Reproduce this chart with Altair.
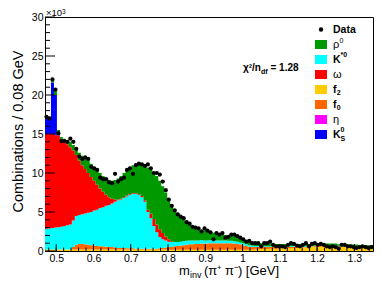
import altair as alt
import numpy as np
import pandas as pd

# ---------------- binning (GeV) ----------------
x_min, x_max, bin_w, n_bins = 0.47, 1.35, 0.008, 110

# ---------------- values in units of 10^3 combinations / bin ----------------
data_k = [
    17.2, 17.0, 22.0, 20.7, 15.1, 14.1, 14.1, 14.0, 14.4, 14.0,
    13.1, 12.1, 11.8, 12.0, 11.8, 10.8, 10.6, 10.4, 9.4, 9.2,
    9.2, 8.8, 8.7, 9.9, 8.9, 9.2, 9.4, 10.4, 10.6, 9.9,
    11.0, 11.2, 11.1, 10.9, 11.1, 10.6, 10.0, 10.0, 9.8, 8.9,
    7.8, 6.6, 5.8, 5.2, 4.7, 4.4, 4.2, 3.7, 3.5, 3.1,
    3.0, 2.9, 2.5, 2.9, 2.6, 2.4, 1.5, 2.3, 2.1, 2.3,
    1.7, 1.8, 2.1, 2.1, 1.9, 1.7, 1.5, 1.2, 1.3, 1.0,
    1.0, 1.0, 0.6, 1.0, 1.0, 1.2, 0.8, 0.6, 0.6, 0.6,
    0.5, 0.8, 1.0, 0.9, 0.7, 0.6, 0.8, 1.0, 0.6, 0.9,
    1.0, 0.8, 0.9, 0.8, 0.6, 0.5, 0.6, 0.5, 0.3, 0.8,
    0.8, 0.6, 0.6, 0.5, 0.4, 0.5, 0.6, 0.5, 0.4, 0.5]

f2_k = [
    0.2, 0.2, 0.2, 0.2, 0.2, 0.2, 0.2, 0.2, 0.2, 0.2,
    0.2, 0.2, 0.2, 0.2, 0.2, 0.2, 0.2, 0.2, 0.2, 0.2,
    0.2, 0.2, 0.2, 0.2, 0.2, 0.2, 0.2, 0.2, 0.2, 0.2,
    0.2, 0.2, 0.2, 0.2, 0.2, 0.2, 0.2, 0.2, 0.2, 0.2,
    0.2, 0.15, 0.15, 0.15, 0.15, 0.15, 0.15, 0.15, 0.15, 0.15,
    0.15, 0.15, 0.15, 0.15, 0.15, 0.15, 0.15, 0.15, 0.15, 0.15,
    0.15, 0.15, 0.15, 0.15, 0.15, 0.15, 0.15, 0.15, 0.15, 0.15,
    0.2, 0.2, 0.25, 0.25, 0.25, 0.3, 0.3, 0.3, 0.3, 0.35,
    0.35, 0.35, 0.35, 0.4, 0.4, 0.4, 0.45, 0.45, 0.5, 0.5,
    0.5, 0.55, 0.55, 0.55, 0.55, 0.55, 0.55, 0.55, 0.5, 0.5,
    0.5, 0.5, 0.45, 0.45, 0.45, 0.4, 0.4, 0.4, 0.35, 0.35]

f0_k = [
    0.0, 0.0, 0.0, 0.0, 0.0, 0.0, 0.0, 0.0, 0.0, 0.3,
    0.6, 0.7, 0.7, 0.65, 0.6, 0.55, 0.5, 0.45, 0.4, 0.4,
    0.35, 0.3, 0.3, 0.25, 0.2, 0.2, 0.2, 0.15, 0.15, 0.15,
    0.1, 0.1, 0.1, 0.1, 0.1, 0.1, 0.1, 0.1, 0.15, 0.2,
    0.25, 0.35, 0.4, 0.45, 0.5, 0.55, 0.6, 0.65, 0.7, 0.7,
    0.75, 0.75, 0.8, 0.8, 0.8, 0.85, 0.85, 0.85, 0.85, 0.85,
    0.85, 0.85, 0.85, 0.8, 0.75, 0.7, 0.6, 0.5, 0.4, 0.35,
    0.3, 0.3, 0.25, 0.25, 0.25, 0.2, 0.2, 0.2, 0.2, 0.2,
    0.15, 0.15, 0.15, 0.15, 0.15, 0.15, 0.1, 0.1, 0.1, 0.1,
    0.1, 0.1, 0.1, 0.1, 0.1, 0.1, 0.1, 0.1, 0.1, 0.1,
    0.1, 0.1, 0.1, 0.1, 0.1, 0.1, 0.1, 0.1, 0.1, 0.1]

eta_k = [
    0.0, 0.0, 0.0, 0.0, 0.0, 0.0, 0.0, 0.0, 0.0, 0.0,
    0.0, 0.0, 0.0, 0.0, 0.0, 0.0, 0.0, 0.0, 0.0, 0.0,
    0.0, 0.0, 0.0, 0.0, 0.0, 0.0, 0.0, 0.0, 0.0, 0.0,
    0.0, 0.0, 0.0, 0.0, 0.0, 0.0, 0.0, 0.0, 0.0, 0.0,
    0.0, 0.0, 0.0, 0.0, 0.0, 0.0, 0.0, 0.0, 0.0, 0.0,
    0.0, 0.0, 0.0, 0.0, 0.0, 0.0, 0.0, 0.0, 0.0, 0.0,
    0.0, 0.0, 0.0, 0.0, 0.0, 0.0, 0.0, 0.0, 0.0, 0.0,
    0.0, 0.0, 0.0, 0.0, 0.0, 0.0, 0.0, 0.0, 0.0, 0.0,
    0.0, 0.0, 0.0, 0.0, 0.0, 0.0, 0.0, 0.0, 0.0, 0.0,
    0.0, 0.0, 0.0, 0.0, 0.0, 0.0, 0.0, 0.0, 0.0, 0.0,
    0.0, 0.0, 0.0, 0.0, 0.0, 0.0, 0.0, 0.0, 0.0, 0.0]

kstar_k = [
    2.65, 2.7, 2.75, 2.8, 2.85, 2.9, 3.0, 3.1, 3.2, 3.4,
    3.7, 3.7, 3.8, 3.95, 4.1, 4.25, 4.5, 4.65, 4.9, 5.0,
    5.25, 5.4, 5.6, 5.85, 6.1, 6.2, 6.4, 6.65, 6.85, 6.95,
    7.0, 6.9, 6.6, 6.0, 4.7, 3.9, 2.9, 2.1, 1.45, 1.1,
    0.9, 0.7, 0.6, 0.55, 0.5, 0.5, 0.5, 0.5, 0.5, 0.5,
    0.45, 0.45, 0.45, 0.4, 0.4, 0.4, 0.4, 0.35, 0.35, 0.35,
    0.35, 0.3, 0.3, 0.3, 0.3, 0.25, 0.25, 0.2, 0.2, 0.2,
    0.15, 0.15, 0.15, 0.12, 0.12, 0.1, 0.1, 0.1, 0.1, 0.1,
    0.1, 0.1, 0.1, 0.1, 0.1, 0.1, 0.08, 0.08, 0.08, 0.08,
    0.08, 0.08, 0.08, 0.08, 0.08, 0.08, 0.08, 0.08, 0.08, 0.08,
    0.08, 0.08, 0.08, 0.08, 0.08, 0.08, 0.08, 0.08, 0.08, 0.08]

omega_k = [
    12.15, 12.1, 12.05, 11.9, 11.75, 11.2, 10.8, 10.4, 9.9, 9.0,
    7.8, 7.0, 6.3, 5.7, 5.1, 4.5, 3.8, 3.2, 2.5, 2.0,
    1.4, 1.0, 0.6, 0.3, 0.1, 0.1, 0.1, 0.1, 0.1, 0.1,
    0.1, 0.1, 0.15, 0.2, 0.3, 0.6, 0.9, 1.0, 1.0, 0.8,
    0.5, 0.3, 0.1, 0.0, 0.0, 0.0, 0.0, 0.0, 0.0, 0.0,
    0.0, 0.0, 0.0, 0.0, 0.0, 0.0, 0.0, 0.0, 0.0, 0.0,
    0.0, 0.0, 0.0, 0.0, 0.0, 0.0, 0.0, 0.0, 0.0, 0.0,
    0.0, 0.0, 0.0, 0.0, 0.0, 0.0, 0.0, 0.0, 0.0, 0.0,
    0.0, 0.0, 0.0, 0.0, 0.0, 0.0, 0.0, 0.0, 0.0, 0.0,
    0.0, 0.0, 0.0, 0.0, 0.0, 0.0, 0.0, 0.0, 0.0, 0.0,
    0.0, 0.0, 0.0, 0.0, 0.0, 0.0, 0.0, 0.0, 0.0, 0.0]

ks_k = [
    2.0, 1.8, 6.6, 5.1, 0.5, 0.1, 0.0, 0.0, 0.0, 0.0,
    0.0, 0.0, 0.0, 0.0, 0.0, 0.0, 0.0, 0.0, 0.0, 0.0,
    0.0, 0.0, 0.0, 0.0, 0.0, 0.0, 0.0, 0.0, 0.0, 0.0,
    0.0, 0.0, 0.0, 0.0, 0.0, 0.0, 0.0, 0.0, 0.0, 0.0,
    0.0, 0.0, 0.0, 0.0, 0.0, 0.0, 0.0, 0.0, 0.0, 0.0,
    0.0, 0.0, 0.0, 0.0, 0.0, 0.0, 0.0, 0.0, 0.0, 0.0,
    0.0, 0.0, 0.0, 0.0, 0.0, 0.0, 0.0, 0.0, 0.0, 0.0,
    0.0, 0.0, 0.0, 0.0, 0.0, 0.0, 0.0, 0.0, 0.0, 0.0,
    0.0, 0.0, 0.0, 0.0, 0.0, 0.0, 0.0, 0.0, 0.0, 0.0,
    0.0, 0.0, 0.0, 0.0, 0.0, 0.0, 0.0, 0.0, 0.0, 0.0,
    0.0, 0.0, 0.0, 0.0, 0.0, 0.0, 0.0, 0.0, 0.0, 0.0]

rho_k = [
    0.4, 0.4, 0.3, 0.6, 0.2, 0.2, 0.4, 0.5, 0.7, 0.7,
    0.8, 1.0, 1.2, 1.4, 1.6, 1.7, 1.8, 1.9, 2.0, 2.0,
    2.1, 2.2, 2.3, 2.5, 2.7, 2.9, 3.1, 3.3, 3.5, 3.6,
    3.8, 3.9, 4.05, 4.4, 5.4, 5.6, 6.0, 6.2, 6.2, 6.0,
    5.65, 5.2, 4.75, 4.25, 3.75, 3.3, 2.85, 2.5, 2.15, 1.9,
    1.7, 1.55, 1.35, 1.3, 1.2, 1.05, 0.95, 0.95, 0.85, 0.8,
    0.7, 0.7, 0.65, 0.65, 0.6, 0.6, 0.55, 0.55, 0.55, 0.5,
    0.45, 0.4, 0.35, 0.38, 0.33, 0.35, 0.3, 0.3, 0.3, 0.25,
    0.3, 0.3, 0.3, 0.25, 0.25, 0.25, 0.25, 0.25, 0.22, 0.22,
    0.22, 0.22, 0.22, 0.22, 0.22, 0.22, 0.22, 0.22, 0.2, 0.2,
    0.2, 0.2, 0.2, 0.2, 0.2, 0.2, 0.2, 0.2, 0.2, 0.2]

# stacking order, bottom to top
comp_names = ["f2", "f0", "eta", "Kstar0", "omega", "KS0", "rho0"]
comp_values = [f2_k, f0_k, eta_k, kstar_k, omega_k, ks_k, rho_k]
comp_colors = ["#ffcc00", "#ff6600", "#ff00ff", "#00ffff", "#ff0000", "#0000ff", "#009a00"]

x_major = [0.5, 0.6, 0.7, 0.8, 0.9, 1.0, 1.1, 1.2, 1.3]
y_major = [0, 5, 10, 15, 20, 25, 30]

for v in comp_values + [data_k]:
    assert len(v) == n_bins, len(v)

# ---------------- tables ----------------
edges = np.round(x_min + bin_w * np.arange(n_bins + 1), 4)
centers = np.round(edges[:-1] + bin_w / 2, 4)

rows = []
cum = np.zeros(n_bins)
for name, vals in zip(comp_names, comp_values):
    v = np.array(vals, dtype=float)
    lo, hi = cum.copy(), cum + v
    for i in range(n_bins + 1):
        j = min(i, n_bins - 1)
        rows.append({"x": float(edges[i]), "lo": float(lo[j]), "hi": float(hi[j]), "comp": name})
    cum = hi
stack_df = pd.DataFrame(rows)
data_df = pd.DataFrame({"x": centers, "v": data_k})

y_minor_df = pd.DataFrame({"x": [t for t in range(0, 31) if t % 5 != 0]})
y_major_df = pd.DataFrame({"x": y_major})
x_minor_df = pd.DataFrame({"x": np.round(np.arange(0.48, 1.35, 0.02), 3)})
x_major_df = pd.DataFrame({"x": x_major})

W, H = 328, 234
FONT = "Liberation Sans"
xsc = alt.Scale(domain=[x_min, x_max], nice=False, zero=False)
ysc = alt.Scale(domain=[0, 30], nice=False, zero=True)

x_axis = alt.Axis(values=x_major, format="~g", title=None, labelPadding=2,
                  labelBaseline="top", labelFlush=False)
y_axis = alt.Axis(values=y_major, title="Combinations / 0.08 GeV",
                  titleFont=FONT, titleFontSize=14.5, titleFontWeight="normal",
                  titleAngle=270, titleX=-23, titleY=114, titleAlign="center",
                  titleBaseline="alphabetic", labelPadding=2, labelFlush=False)

X = lambda f: alt.X(f, scale=xsc, axis=x_axis)
Y = lambda f: alt.Y(f, scale=ysc, axis=y_axis)

stack = alt.Chart(stack_df).mark_area(interpolate="step-after").encode(
    x=X("x:Q"), y=Y("hi:Q"), y2="lo:Q",
    color=alt.Color("comp:N", scale=alt.Scale(domain=comp_names, range=comp_colors), legend=None),
)

points = alt.Chart(data_df).mark_circle(size=18, color="black", opacity=1).encode(
    x=X("x:Q"), y=Y("v:Q"),
)


def yticks(df, length):
    return alt.Chart(df).mark_rule(color="black", strokeWidth=1).encode(
        y=Y("x:Q"), x=alt.value(0), x2=alt.value(length))


def xticks(df, length):
    return alt.Chart(df).mark_rule(color="black", strokeWidth=1).encode(
        x=X("x:Q"), y=alt.value(H), y2=alt.value(H - length))


one = pd.DataFrame({"a": [0]})


def txt(s, x, y, size, weight="normal", baseline="alphabetic", align="left"):
    return alt.Chart(one).mark_text(text=s, font=FONT, fontSize=size, fontWeight=weight,
                                    baseline=baseline, align=align, color="black").encode(
        x=alt.value(x), y=alt.value(y))


def box(x0, x1, y0, y1, col):
    return alt.Chart(one).mark_rect(color=col).encode(
        x=alt.value(x0), x2=alt.value(x1), y=alt.value(y0), y2=alt.value(y1))


layers = [stack, points,
          yticks(y_minor_df, 5), yticks(y_major_df, 10),
          xticks(x_minor_df, 3.5), xticks(x_major_df, 7)]

# exponent label
layers += [txt("×10", 1, -1, 9.5), txt("3", 17, -3.5, 6.5)]

# x-axis title
tb = 258
layers += [txt("m", 134, tb, 13), txt("inv", 145, tb + 2.5, 9),
           txt("(π⁺ π⁻) [GeV]", 159, tb, 13)]

# chi2 text
cx, cy = 198, 54
layers += [txt("χ²/n", cx, cy, 10, "bold"), txt("df", cx + 18, cy + 2.5, 7, "bold"),
           txt("= 1.28", cx + 27.5, cy, 10, "bold")]

# legend
lx0, lx1, tx = 270, 282, 288
ly = [12.5 + 15 * k for k in range(8)]
layers.append(alt.Chart(one).mark_circle(size=20, color="black", opacity=1).encode(
    x=alt.value(276), y=alt.value(ly[0])))
layers.append(txt("Data", tx, ly[0], 10.5, "bold", "middle"))
leg_colors = ["#009a00", "#00ffff", "#ff0000", "#ffcc00", "#ff6600", "#ff00ff", "#0000ff"]
for k, c in enumerate(leg_colors, start=1):
    layers.append(box(lx0, lx1, ly[k] - 4.5, ly[k] + 4.5, c))
layers += [
    txt("ρ", tx, ly[1] + 3, 11), txt("0", tx + 6.5, ly[1] - 2, 7),
    txt("K", tx, ly[2], 10.5, "bold", "middle"), txt("*0", tx + 7.5, ly[2] - 2.5, 7, "bold"),
    txt("ω", tx, ly[3] + 3, 11),
    txt("f", tx, ly[4], 10.5, "bold", "middle"), txt("2", tx + 3.8, ly[4] + 5.5, 7, "bold"),
    txt("f", tx, ly[5], 10.5, "bold", "middle"), txt("0", tx + 3.8, ly[5] + 5.5, 7, "bold"),
    txt("η", tx, ly[6] + 3, 11),
    txt("K", tx, ly[7], 10.5, "bold", "middle"), txt("0", tx + 7.5, ly[7] - 2.5, 7, "bold"),
    txt("S", tx + 7.5, ly[7] + 6, 7, "bold"),
]

chart = alt.layer(*layers).properties(
    width=W, height=H, autosize="none",
    padding={"left": 37, "top": 9, "right": 1, "bottom": 27},
    background="white",
).configure_view(stroke="black", strokeWidth=1).configure_axis(
    grid=False, ticks=False, domainColor="black", domainWidth=1,
    labelColor="black", labelFont=FONT, labelFontSize=10.5, titleColor="black",
)

chart.save("out.html", embed_options={"renderer": "svg", "actions": False})
